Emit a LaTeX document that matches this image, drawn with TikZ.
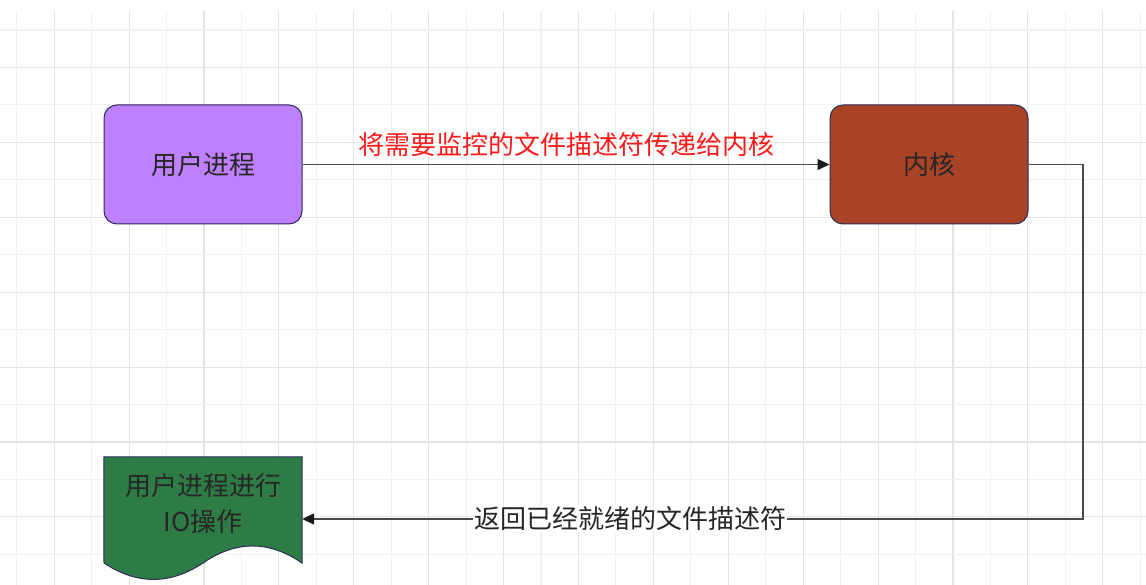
\documentclass[tikz,border=0pt]{standalone}
\usepackage{fontspec}
\newfontfamily\cjk{Noto Sans CJK SC}
\usetikzlibrary{arrows.meta}
\definecolor{gridlight}{HTML}{F1F1F1}
\definecolor{griddark}{HTML}{E4E4E4}
\definecolor{userfill}{HTML}{BF80FF}
\definecolor{kernfill}{HTML}{A84326}
\definecolor{docfill}{HTML}{2E7C45}
\definecolor{boxline}{HTML}{2C2C58}
\definecolor{connline}{HTML}{4A4A4A}
\definecolor{txt}{HTML}{262626}
\definecolor{redtxt}{HTML}{FF1A1A}
\begin{document}
\begin{tikzpicture}[x=1pt,y=-1pt,
  procbox/.style={draw=boxline, line width=1pt, rounded corners=13pt,
    minimum width=198pt, minimum height=119pt, inner sep=0pt,
    font=\cjk\fontsize{26}{34}\selectfont, text=txt},
  conn/.style={draw=connline, line width=1.3pt,
    -{Triangle[length=12pt,width=11pt,color=black!90]}},
  redlabel/.style={font=\cjk\fontsize{26}{30}\selectfont, text=redtxt, inner sep=1pt},
  blacklabel/.style={font=\cjk\fontsize{26}{32}\selectfont, text=txt, fill=white, inner sep=1pt}
]
\useasboundingbox (0,0) rectangle (1146,585);
\fill[white] (0,0) rectangle (1146,585);
% grid
\foreach \k in {0,...,30}{
  \pgfmathsetmacro\xx{16.7+37.45*\k}
  \ifodd\k
    \draw[griddark, line width=1.1pt] (\xx,11) -- (\xx,585);
  \else
    \draw[gridlight, line width=1.1pt] (\xx,11) -- (\xx,585);
  \fi
}
\foreach \k in {0,...,14}{
  \pgfmathsetmacro\yy{30+37.45*\k}
  \ifodd\k
    \draw[griddark, line width=1.1pt] (0,\yy) -- (1146,\yy);
  \else
    \draw[gridlight, line width=1.1pt] (0,\yy) -- (1146,\yy);
  \fi
}
% boxes
\node[procbox, fill=userfill] (user) at (203,164.5) {用户进程};
\node[procbox, fill=kernfill] (kernel) at (929,164.5) {内核};
% document shape
\node[minimum width=198pt, minimum height=124pt, inner sep=0pt] (io) at (203,519) {};
\filldraw[fill=docfill, draw=boxline, line width=1pt]
  (io.north west) -- (io.north east) -- (302,563)
  .. controls (269,540.3) and (236,540.3) .. (203,563)
  .. controls (170,584.9) and (137,584.9) .. (104,563) -- cycle;
\node[align=center, font=\cjk\fontsize{26}{36}\selectfont, text=txt] (iotext) at (203,504)
  {用户进程进行\\IO操作};
% connectors
\draw[conn] (user.east) -- (kernel.west)
  node[redlabel, midway, yshift=19.5pt] (lab1) {将需要监控的文件描述符传递给内核};
\coordinate (bend) at (1083,164.5);
\draw[conn] (kernel.east) -- (bend) |- (io.east)
  node[blacklabel, pos=0.79] (lab2) {返回已经就绪的文件描述符};
\end{tikzpicture}
\end{document}
